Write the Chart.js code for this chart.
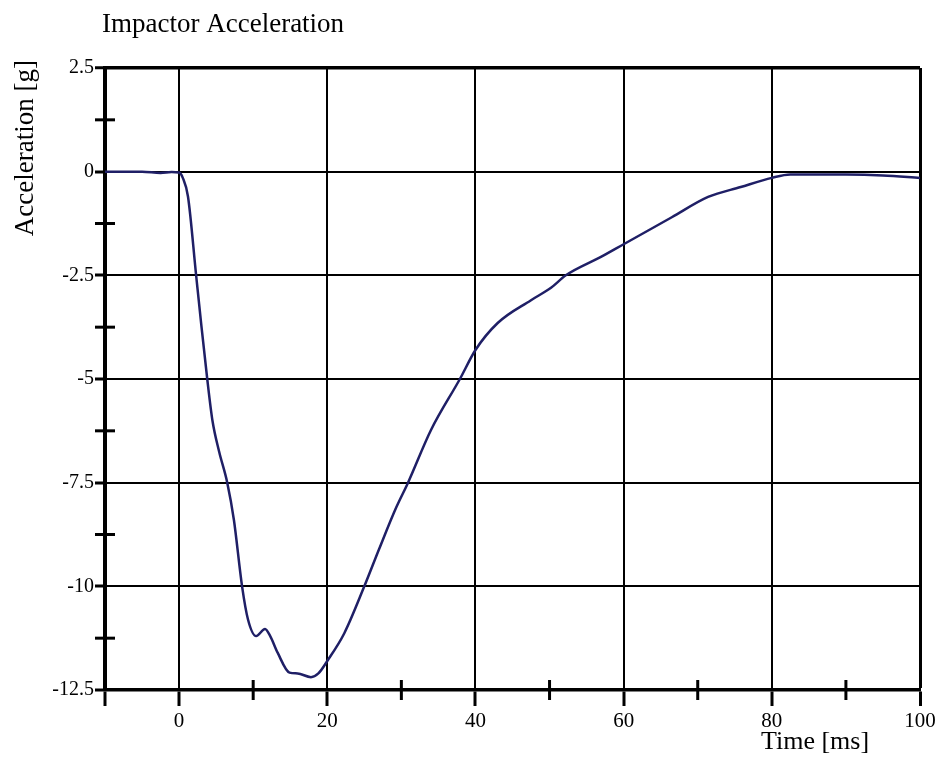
<!DOCTYPE html>
<html lang="en">
<head>
    <meta charset="UTF-8">
    <title>Impactor Acceleration</title>
    <script src="https://cdn.jsdelivr.net/npm/chart.js"></script>
    <style>
        body { margin: 0; background: #fff; }
    </style>
</head>
<body>
    <canvas id="accChart" width="939" height="759"></canvas>
    <script>
        // data
        const timeMs = [-10, -5, -2.5, -1, 0, 0.5, 1.2, 2.3, 3, 3.8, 4.5, 5.4, 6.5, 7.4, 8.5, 9.3,
            10.4, 11.6, 12.3, 13.3, 14.9, 16, 17.8, 18.8, 20, 22.3, 25, 27, 29.3, 30.9, 34, 37.9,
            40, 43, 47.5, 50.2, 52.2, 57, 60, 66.5, 71.4, 75.8, 80, 82.5, 90, 95, 100];
        const accelG = [0, 0, -0.03, -0.01, -0.02, -0.15, -0.6, -2.5, -3.7, -5.0, -6.0, -6.75, -7.5, -8.4, -10.0, -10.8,
            -11.2, -11.03, -11.2, -11.6, -12.08, -12.1, -12.19, -12.1, -11.8, -11.13, -10.0, -9.1, -8.1, -7.5, -6.23, -5.0,
            -4.3, -3.65, -3.1, -2.8, -2.5, -2.05, -1.75, -1.1, -0.61, -0.37, -0.15, -0.07, -0.07, -0.09, -0.15];
        const xLabels = [0, 20, 40, 60, 80, 100];
        const yLabels = ['2.5', '0', '-2.5', '-5', '-7.5', '-10', '-12.5'];

        const serif = '"Liberation Serif", "Times New Roman", serif';
        const isMajorX = v => v % 20 === 0;
        const isMajorY = v => Math.abs(v % 2.5) < 0.01;

        // titles + minor ticks that cross the axis lines
        const extras = {
            id: 'extras',
            afterDraw(chart) {
                const { ctx, chartArea, scales } = chart;
                ctx.save();
                ctx.strokeStyle = '#000';
                ctx.lineWidth = 3;
                scales.x.ticks.forEach(t => {
                    if (!isMajorX(t.value) && t.value !== -10) {
                        const px = scales.x.getPixelForValue(t.value);
                        ctx.beginPath();
                        ctx.moveTo(px, chartArea.bottom + 10);
                        ctx.lineTo(px, chartArea.bottom - 10);
                        ctx.stroke();
                    }
                });
                scales.y.ticks.forEach(t => {
                    if (!isMajorY(t.value)) {
                        const py = scales.y.getPixelForValue(t.value);
                        ctx.beginPath();
                        ctx.moveTo(chartArea.left - 10, py);
                        ctx.lineTo(chartArea.left + 10, py);
                        ctx.stroke();
                    }
                });

                ctx.fillStyle = '#000';
                ctx.textBaseline = 'alphabetic';
                ctx.textAlign = 'left';
                ctx.font = '27px ' + serif;
                ctx.fillText('Impactor Acceleration', chartArea.left - 3, 32);
                ctx.font = '26px ' + serif;
                ctx.fillText('Time [ms]', 761, 749);

                ctx.font = '27px ' + serif;
                ctx.translate(33, 60);
                ctx.rotate(-Math.PI / 2);
                ctx.textAlign = 'right';
                ctx.fillText('Acceleration [g]', 0, 0);
                ctx.restore();
            }
        };

        const ctx = document.getElementById('accChart').getContext('2d');
        const accChart = new Chart(ctx, {
            type: 'line',
            data: {
                datasets: [{
                    label: 'Acceleration',
                    data: timeMs.map((t, i) => ({ x: t, y: accelG[i] })),
                    borderColor: '#1f1f66',
                    borderWidth: 2.5,
                    pointRadius: 0,
                    cubicInterpolationMode: 'monotone',
                    fill: false
                }]
            },
            options: {
                responsive: false,
                animation: false,
                layout: { padding: { top: 68, right: 19, left: 0, bottom: 0 } },
                plugins: {
                    legend: { display: false },
                    tooltip: { enabled: false }
                },
                scales: {
                    x: {
                        type: 'linear',
                        min: -10,
                        max: 100,
                        afterFit: s => { s.height = 69; },
                        ticks: {
                            stepSize: 10,
                            autoSkip: false,
                            maxRotation: 0,
                            padding: 3,
                            color: '#000',
                            font: { family: serif, size: 21 },
                            callback: v => xLabels.includes(v) ? String(v) : ''
                        },
                        grid: {
                            color: c => (c.tick && isMajorX(c.tick.value)) ? '#000' : 'rgba(0,0,0,0)',
                            lineWidth: c => (c.tick && c.tick.value === 100) ? 3 : 2,
                            tickColor: c => (c.tick && (isMajorX(c.tick.value) || c.tick.value === -10)) ? '#000' : 'rgba(0,0,0,0)',
                            tickWidth: 3,
                            tickLength: 16
                        },
                        border: { color: '#000', width: 3.5 }
                    },
                    y: {
                        min: -12.5,
                        max: 2.5,
                        afterFit: s => { s.width = 105; },
                        ticks: {
                            stepSize: 1.25,
                            autoSkip: false,
                            padding: 1,
                            color: '#000',
                            font: { family: serif, size: 20 },
                            callback: v => {
                                const s = String(v);
                                return yLabels.includes(s) ? s : '';
                            }
                        },
                        grid: {
                            color: c => (c.tick && isMajorY(c.tick.value)) ? '#000' : 'rgba(0,0,0,0)',
                            lineWidth: c => (c.tick && c.tick.value === 2.5) ? 3.5 : 2,
                            tickColor: c => (c.tick && isMajorY(c.tick.value)) ? '#000' : 'rgba(0,0,0,0)',
                            tickWidth: 3,
                            tickLength: 10
                        },
                        border: { color: '#000', width: 4 }
                    }
                }
            },
            plugins: [extras]
        });
    </script>
</body>
</html>
